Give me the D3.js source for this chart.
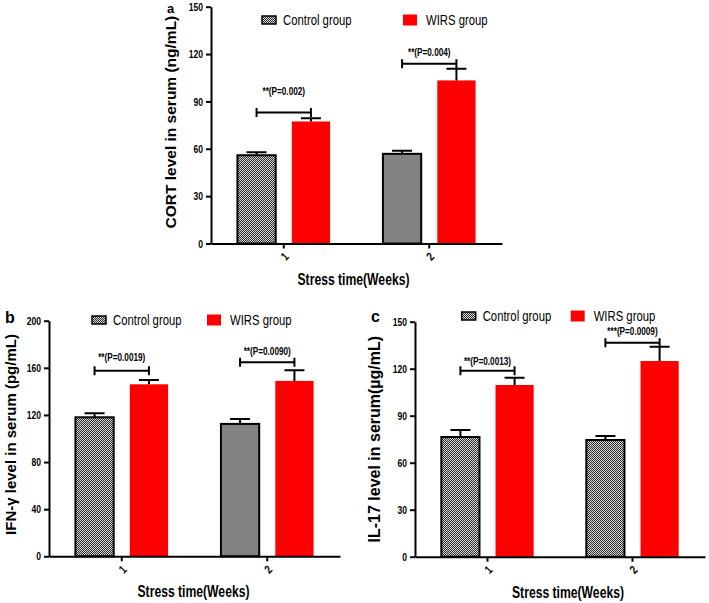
<!DOCTYPE html>
<html><head><meta charset="utf-8">
<script src="https://cdn.jsdelivr.net/npm/d3@7"></script>
<style>
body{margin:0;background:#fff}
svg{display:block}
text{font-family:"Liberation Sans",Arial,sans-serif;}
</style></head><body>
<svg id="chart" width="709" height="603"></svg>
<script>
// ---------- data ----------
const weeks = ["1", "2"];
const groups = ["Control group", "WIRS group"];

const cortTicks = [0, 30, 60, 90, 120, 150];
const cortControl = [55.9, 56.8];
const cortControlSem = [1.9, 1.9];
const cortWirs = [77.3, 103.3];
const cortWirsSem = [2.1, 7.4];
const cortSigText = ["**(P=0.002)", "**(P=0.004)"];
const cortSigLevel = [83, 113.8];

const ifnTicks = [0, 40, 80, 120, 160, 200];
const ifnControl = [118.0, 112.4];
const ifnControlSem = [3.4, 4.2];
const ifnWirs = [146.0, 148.9];
const ifnWirsSem = [3.7, 9.1];
const ifnSigText = ["**(P=0.0019)", "**(P=0.0090)"];
const ifnSigLevel = [157.6, 164.8];

const il17Ticks = [0, 30, 60, 90, 120, 150];
const il17Control = [76.4, 74.5];
const il17ControlSem = [4.5, 2.5];
const il17Wirs = [109.6, 124.9];
const il17WirsSem = [4.7, 9.1];
const il17SigText = ["**(P=0.0013)", "***(P=0.0009)"];
const il17SigLevel = [118.7, 136.6];

const xTitle = "Stress time(Weeks)";

// ---------- drawing ----------
const svg = d3.select("#chart");
const defs = svg.append("defs");
const pat = defs.append("pattern").attr("id", "checker")
  .attr("patternUnits", "userSpaceOnUse").attr("width", 2).attr("height", 2);
pat.append("rect").attr("width", 2).attr("height", 2).attr("fill", "#d6d6d6");
pat.append("rect").attr("width", 1).attr("height", 1).attr("fill", "#2e2e2e");
pat.append("rect").attr("x", 1).attr("y", 1).attr("width", 1).attr("height", 1).attr("fill", "#2e2e2e");

const fills = ["url(#checker)", "#ff0000"];

// condense text horizontally (mimics a narrow typeface)
function narrow(sel, k = 0.8) {
  sel.each(function () {
    const L = this.getComputedTextLength();
    this.setAttribute("textLength", (L * k).toFixed(2));
    this.setAttribute("lengthAdjust", "spacingAndGlyphs");
  });
}

function panel(cfg) {
  const g = svg.append("g");
  const x0 = d3.scaleBand().domain(weeks).range(cfg.xr);
  const x1 = d3.scaleBand().domain(groups).range([0, x0.bandwidth()])
    .paddingInner(0.296).paddingOuter(0.486);
  const y = d3.scaleLinear().domain([0, cfg.ticks[cfg.ticks.length - 1]]).range(cfg.yr);

  const rows = weeks.map((w, i) => ({
    week: w,
    items: [
      { grp: groups[0], v: cfg.control[i], e: cfg.controlSem[i] },
      { grp: groups[1], v: cfg.wirs[i], e: cfg.wirsSem[i] }
    ]
  }));

  // bars
  const wg = g.selectAll(".wk").data(rows).join("g")
    .attr("transform", d => `translate(${x0(d.week)},0)`);
  wg.selectAll("rect").data(d => d.items).join("rect")
    .attr("x", d => x1(d.grp))
    .attr("y", d => y(d.v))
    .attr("width", x1.bandwidth())
    .attr("height", d => y(0) - y(d.v))
    .attr("fill", (d, i) => fills[i])
    .attr("stroke", (d, i) => i === 0 ? "#000" : "none")
    .attr("stroke-width", 2);
  // error bars
  wg.selectAll(".eb").data(d => d.items).join("path")
    .attr("class", "eb")
    .attr("d", d => {
      const cx = x1(d.grp) + x1.bandwidth() / 2;
      return `M${cx},${y(d.v)}V${y(d.v + d.e)}M${cx - 10},${y(d.v + d.e)}H${cx + 10}`;
    })
    .attr("stroke", "#000").attr("stroke-width", 2).attr("fill", "none");

  // significance brackets
  wg.each(function (d, i) {
    const sel = d3.select(this);
    const xa = x1(groups[0]) + x1.bandwidth() / 2;
    const xb = x1(groups[1]) + x1.bandwidth() / 2;
    const yy = y(cfg.sigLevel[i]);
    sel.append("path")
      .attr("d", `M${xa},${yy}H${xb}M${xa},${yy - 4.5}V${yy + 4.5}M${xb},${yy - 4.5}V${yy + 4.5}`)
      .attr("stroke", "#000").attr("stroke-width", 2).attr("fill", "none");
    sel.append("text")
      .attr("x", (xa + xb) / 2).attr("y", yy - cfg.sigOffset[i])
      .attr("text-anchor", "middle").attr("font-size", 10.5).attr("font-weight", "bold")
      .text(cfg.sigText[i]).call(narrow, 0.78);
  });

  // axes
  const ya = g.append("g").attr("transform", `translate(${cfg.xr[0]},0)`)
    .call(d3.axisLeft(y).tickValues(cfg.ticks).tickSize(5).tickSizeOuter(0).tickPadding(3));
  ya.select(".domain").attr("stroke-width", 2);
  ya.selectAll(".tick line").attr("stroke-width", 2);
  ya.selectAll("text").attr("font-family", "Liberation Sans, Arial, sans-serif")
    .attr("font-size", 11.5).attr("font-weight", "bold").attr("fill", "#000").call(narrow, 0.74);

  const xa = g.append("g").attr("transform", `translate(0,${cfg.yr[0]})`)
    .call(d3.axisBottom(x0).tickSize(5).tickSizeOuter(0));
  xa.select(".domain").attr("stroke-width", 2);
  xa.selectAll(".tick line").attr("stroke-width", 2);
  xa.selectAll("text").attr("font-family", "Liberation Sans, Arial, sans-serif")
    .attr("font-size", 12).attr("font-weight", "bold")
    .attr("fill", "#000").attr("y", null).attr("dy", "0.35em")
    .attr("transform", "translate(1,13) rotate(-45)").call(narrow, 0.8);

  // axis titles
  g.append("text")
    .attr("x", (cfg.xr[0] + cfg.xr[1]) / 2 + cfg.xTitleShift).attr("y", cfg.yr[0] + 41)
    .attr("text-anchor", "middle").attr("font-size", 16).attr("font-weight", "bold")
    .text(xTitle).call(narrow, 0.76);
  g.append("text")
    .attr("transform", `translate(${cfg.yTitleX},${(cfg.yr[0] + cfg.yr[1]) / 2 + cfg.yTitleShift}) rotate(-90)`)
    .attr("text-anchor", "middle").attr("dy", "0.35em").attr("font-size", cfg.yTitleSize).attr("font-weight", "bold")
    .text(cfg.yTitle);

  // panel letter
  g.append("text")
    .attr("x", cfg.letterPos[0]).attr("y", cfg.letterPos[1])
    .attr("font-size", cfg.letterSize).attr("font-weight", "bold").text(cfg.letter);

  // legend
  const lg = g.append("g");
  groups.forEach((name, i) => {
    const sx = cfg.legendX[i];
    if (i === 0) {
      lg.append("rect").attr("x", sx).attr("y", cfg.legendY - 4).attr("width", 14).attr("height", 8)
        .attr("fill", "url(#checker)").attr("stroke", "#000").attr("stroke-width", 1.5);
    } else {
      lg.append("rect").attr("x", sx).attr("y", cfg.legendY - 5.5).attr("width", 14).attr("height", 11)
        .attr("fill", "#ff0000");
    }
    lg.append("text")
      .attr("x", sx + (i === 0 ? 21 : 23)).attr("y", cfg.legendY).attr("dy", "0.36em")
      .attr("font-size", 14.5).text(name).call(narrow, 0.78);
  });
}

panel({
  xr: [211, 502], yr: [243.5, 6.7], ticks: cortTicks,
  control: cortControl, controlSem: cortControlSem, wirs: cortWirs, wirsSem: cortWirsSem,
  sigText: cortSigText, sigLevel: cortSigLevel, sigOffset: [17, 8],
  yTitle: "CORT level in serum (ng/mL)", yTitleX: 171, yTitleSize: 15.5, yTitleShift: -3,
  xTitleShift: -3, letter: "a", letterPos: [167, 12.5], letterSize: 13,
  legendX: [262, 403], legendY: 20
});
panel({
  xr: [49, 340], yr: [556.3, 320.7], ticks: ifnTicks,
  control: ifnControl, controlSem: ifnControlSem, wirs: ifnWirs, wirsSem: ifnWirsSem,
  sigText: ifnSigText, sigLevel: ifnSigLevel, sigOffset: [10, 7],
  yTitle: "IFN-\u03b3  level in serum (pg/mL)", yTitleX: 11, yTitleSize: 15, yTitleShift: -4,
  xTitleShift: -1, letter: "b", letterPos: [5, 323], letterSize: 16,
  legendX: [92, 207], legendY: 320
});
panel({
  xr: [415, 705], yr: [556.7, 321.7], ticks: il17Ticks,
  control: il17Control, controlSem: il17ControlSem, wirs: il17Wirs, wirsSem: il17WirsSem,
  sigText: il17SigText, sigLevel: il17SigLevel, sigOffset: [6, 8],
  yTitle: "IL-17 level in serum(\u00b5g/mL)", yTitleX: 374, yTitleSize: 16, yTitleShift: 0,
  xTitleShift: 8, letter: "c", letterPos: [371, 322], letterSize: 16,
  legendX: [461.7, 570.7], legendY: 316
});
</script>
</body></html>
